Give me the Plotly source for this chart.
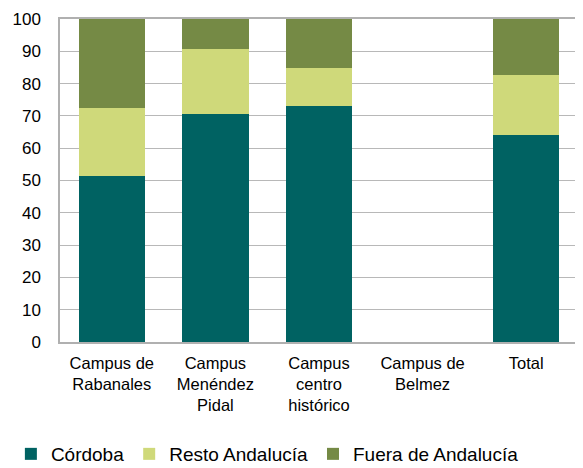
import plotly.graph_objects as go

categories = ["Campus de<br>Rabanales", "Campus<br>Menéndez<br>Pidal", "Campus<br>centro<br>histórico",
              "Campus de<br>Belmez", "Total"]
cordoba = [51.5, 70.7, 73.1, 0, 64.1]
resto_andalucia = [20.8, 20.0, 11.6, 0, 18.6]
fuera_andalucia = [27.7, 9.3, 15.3, 0, 17.3]
y_ticks = [0, 10, 20, 30, 40, 50, 60, 70, 80, 90, 100]

series = [
    ("Córdoba", cordoba, "#006262"),
    ("Resto Andalucía", resto_andalucia, "#CFD97A"),
    ("Fuera de Andalucía", fuera_andalucia, "#758A45"),
]

fig = go.Figure()
for name, vals, color in series:
    fig.add_trace(go.Bar(x=categories, y=vals, name=name, marker=dict(color=color, line=dict(width=0))))

font = "Liberation Sans, Arial, sans-serif"
fig.update_layout(
    barmode="stack",
    bargap=0.36,
    width=575, height=468,
    margin=dict(l=52, r=5, t=11, b=134, autoexpand=False),
    plot_bgcolor="white", paper_bgcolor="white",
    font=dict(family=font, size=16.5, color="#000000"),
    legend=dict(orientation="h", xref="container", yref="container", x=0.005, xanchor="left",
                y=0.047, yanchor="middle",
                font=dict(size=19), itemwidth=30, traceorder="normal"),
    showlegend=True,
)
fig.update_yaxes(range=[0, 100], tickvals=y_ticks, showgrid=True, gridcolor="#B8B8B8", gridwidth=1,
                 showline=True, linecolor="#B0B0B0", linewidth=1.5, mirror=True,
                 ticks="", ticklabelstandoff=14, tickfont=dict(size=17), zeroline=False)
fig.update_xaxes(showline=True, linecolor="#B0B0B0", linewidth=1.5, mirror=True, ticks="",
                 ticklabelstandoff=5, tickfont=dict(size=16.5))

fig.write_html("out.html")
